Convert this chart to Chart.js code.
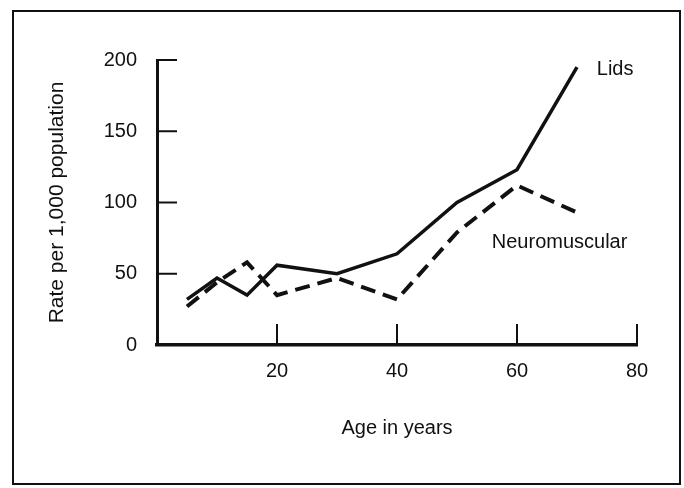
<!DOCTYPE html>
<html>
<head>
<meta charset="utf-8">
<script src="https://cdn.jsdelivr.net/npm/chart.js@4/dist/chart.umd.min.js"></script>
<style>
  html, body { margin: 0; padding: 0; background: #fff; }
  #wrap { position: relative; width: 684px; height: 488px; }
</style>
</head>
<body>
<div id="wrap"><canvas id="ageChart" width="684" height="488"></canvas></div>
<script>
// values
const ages = [5, 10, 15, 20, 30, 40, 50, 60, 70];
const lids = [32, 47, 35, 56, 50, 64, 100, 123, 195];
const neuromuscular = [27, 44, 58, 35, 47, 32, 79, 112, 93];

const xTicks = [20, 40, 60, 80];
const yTicks = [0, 50, 100, 150, 200];

const ink = '#111';
const family = '"Liberation Sans", Arial, sans-serif';
const font = { family: family, size: 20 };

function toPoints(values) {
  return ages.map((a, i) => ({ x: a, y: values[i] }));
}

// frame round the figure
const framePlugin = {
  id: 'frame',
  beforeDraw(chart) {
    const ctx = chart.ctx;
    ctx.save();
    ctx.strokeStyle = ink;
    ctx.lineWidth = 2;
    ctx.strokeRect(13, 11, 667, 473);
    ctx.restore();
  }
};

// ticks drawn inward from the axes
const innerTicks = {
  id: 'innerTicks',
  afterDraw(chart) {
    const { ctx, chartArea, scales } = chart;
    ctx.save();
    ctx.strokeStyle = ink;
    ctx.lineWidth = 2;
    yTicks.filter(v => v !== 0).forEach(v => {
      const y = scales.y.getPixelForValue(v);
      ctx.beginPath();
      ctx.moveTo(chartArea.left, y);
      ctx.lineTo(chartArea.left + 20, y);
      ctx.stroke();
    });
    xTicks.forEach(v => {
      const x = scales.x.getPixelForValue(v);
      ctx.beginPath();
      ctx.moveTo(x, chartArea.bottom);
      ctx.lineTo(x, chartArea.bottom - 21);
      ctx.stroke();
    });
    ctx.restore();
  }
};

// series names written next to the lines
const seriesNames = {
  id: 'seriesNames',
  afterDraw(chart) {
    const { ctx, scales } = chart;
    ctx.save();
    ctx.fillStyle = ink;
    ctx.font = `${font.size}px ${family}`;
    ctx.textAlign = 'left';
    ctx.textBaseline = 'middle';
    ctx.fillText('Lids', scales.x.getPixelForValue(73.3), scales.y.getPixelForValue(193));
    ctx.fillText('Neuromuscular', scales.x.getPixelForValue(55.8), scales.y.getPixelForValue(72));
    ctx.restore();
  }
};

new Chart(document.getElementById('ageChart').getContext('2d'), {
  type: 'line',
  data: {
    datasets: [{
      label: 'Lids',
      data: toPoints(lids),
      borderColor: ink,
      borderWidth: 3.5,
      pointRadius: 0,
      tension: 0,
      fill: false
    }, {
      label: 'Neuromuscular',
      data: toPoints(neuromuscular),
      borderColor: ink,
      borderWidth: 4,
      borderDash: [15, 8],
      pointRadius: 0,
      tension: 0,
      fill: false
    }]
  },
  options: {
    responsive: false,
    animation: false,
    layout: { padding: { top: 60, right: 47, bottom: 0, left: 0 } },
    plugins: {
      legend: { display: false },
      tooltip: { enabled: false }
    },
    scales: {
      x: {
        type: 'linear',
        min: 0,
        max: 80,
        afterBuildTicks: s => { s.ticks = xTicks.map(v => ({ value: v })); },
        afterFit: s => { s.height = 143; },
        grid: { drawOnChartArea: false, drawTicks: false },
        border: { display: true, color: ink, width: 3.5 },
        ticks: { color: ink, font: font, padding: 14, maxRotation: 0 },
        title: {
          display: true,
          text: 'Age in years',
          color: ink,
          font: font,
          padding: { top: 0, bottom: 48 }
        }
      },
      y: {
        type: 'linear',
        min: 0,
        max: 200,
        afterBuildTicks: s => { s.ticks = yTicks.map(v => ({ value: v })); },
        afterFit: s => { s.width = 157; },
        grid: { drawOnChartArea: false, drawTicks: false },
        border: { display: true, color: ink, width: 3 },
        ticks: { color: ink, font: font, padding: 20 },
        title: {
          display: true,
          text: 'Rate per 1,000 population',
          color: ink,
          font: { family: family, size: 21 },
          padding: { top: 45, bottom: 0 }
        }
      }
    }
  },
  plugins: [framePlugin, innerTicks, seriesNames]
});
</script>
</body>
</html>
